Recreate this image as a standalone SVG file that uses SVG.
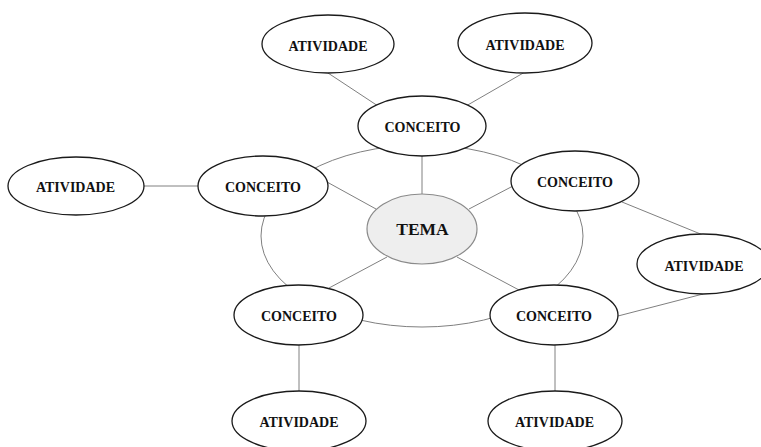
<svg xmlns="http://www.w3.org/2000/svg" width="761" height="447" viewBox="0 0 761 447">
<style>
.bg{fill:#ffffff}
.ring{fill:none;stroke:#808080;stroke-width:1}
.conn line{stroke:#808080;stroke-width:1}
.node ellipse{fill:#ffffff;stroke:#1a1a1a;stroke-width:1.3}
.tema ellipse{fill:#eeeeee;stroke:#8a8a8a;stroke-width:1.2}
text{font-family:"Liberation Serif","Times New Roman",serif;font-weight:bold;fill:#111;text-anchor:middle}
.lbl{font-size:14px}
.big{font-size:17.5px}
</style>
<rect class="bg" x="0" y="0" width="761" height="447"/>
<g id="connectors">
<ellipse class="ring" cx="422" cy="236" rx="161" ry="91"/>
<g class="conn">
<line x1="328" y1="73" x2="378" y2="106"/>
<line x1="525" y1="72" x2="466" y2="106"/>
<line x1="422" y1="155" x2="422" y2="194"/>
<line x1="143" y1="186" x2="199" y2="186"/>
<line x1="327" y1="182" x2="376" y2="209"/>
<line x1="469" y1="209" x2="513" y2="186"/>
<line x1="387" y1="257" x2="329" y2="288"/>
<line x1="457" y1="257" x2="519" y2="290"/>
<line x1="622" y1="202" x2="703" y2="235"/>
<line x1="703" y1="294" x2="618" y2="316"/>
<line x1="299" y1="344" x2="299" y2="392"/>
<line x1="555" y1="344" x2="555" y2="392"/>
</g>
</g>
<g id="atividade-top-left" class="node"><ellipse cx="328" cy="44" rx="66" ry="29"/><text class="lbl" x="328" y="50.5">ATIVIDADE</text></g>
<g id="atividade-top-right" class="node"><ellipse cx="525" cy="43" rx="67" ry="30"/><text class="lbl" x="525" y="49.5">ATIVIDADE</text></g>
<g id="conceito-top" class="node"><ellipse cx="422" cy="126" rx="64" ry="30"/><text class="lbl" x="422.5" y="131.5">CONCEITO</text></g>
<g id="atividade-left" class="node"><ellipse cx="76" cy="186" rx="68" ry="29"/><text class="lbl" x="75.5" y="191.5">ATIVIDADE</text></g>
<g id="conceito-left" class="node"><ellipse cx="263" cy="186" rx="65" ry="30"/><text class="lbl" x="263" y="191.5">CONCEITO</text></g>
<g id="tema" class="tema"><ellipse cx="422" cy="229" rx="55" ry="35"/><text class="big" x="422.5" y="234.5">TEMA</text></g>
<g id="conceito-right" class="node"><ellipse cx="575" cy="181" rx="64" ry="30"/><text class="lbl" x="575" y="186.5">CONCEITO</text></g>
<g id="atividade-right" class="node"><ellipse cx="703" cy="264" rx="66" ry="30"/><text class="lbl" x="704" y="270.5">ATIVIDADE</text></g>
<g id="conceito-bottom-left" class="node"><ellipse cx="298.5" cy="315" rx="64.5" ry="30"/><text class="lbl" x="299" y="321">CONCEITO</text></g>
<g id="conceito-bottom-right" class="node"><ellipse cx="554" cy="315" rx="64" ry="30"/><text class="lbl" x="554" y="321">CONCEITO</text></g>
<g id="atividade-bottom-left" class="node"><ellipse cx="299" cy="421" rx="67" ry="30"/><text class="lbl" x="299" y="426.5">ATIVIDADE</text></g>
<g id="atividade-bottom-right" class="node"><ellipse cx="555" cy="421" rx="67" ry="30"/><text class="lbl" x="554.5" y="426.5">ATIVIDADE</text></g>
</svg>
